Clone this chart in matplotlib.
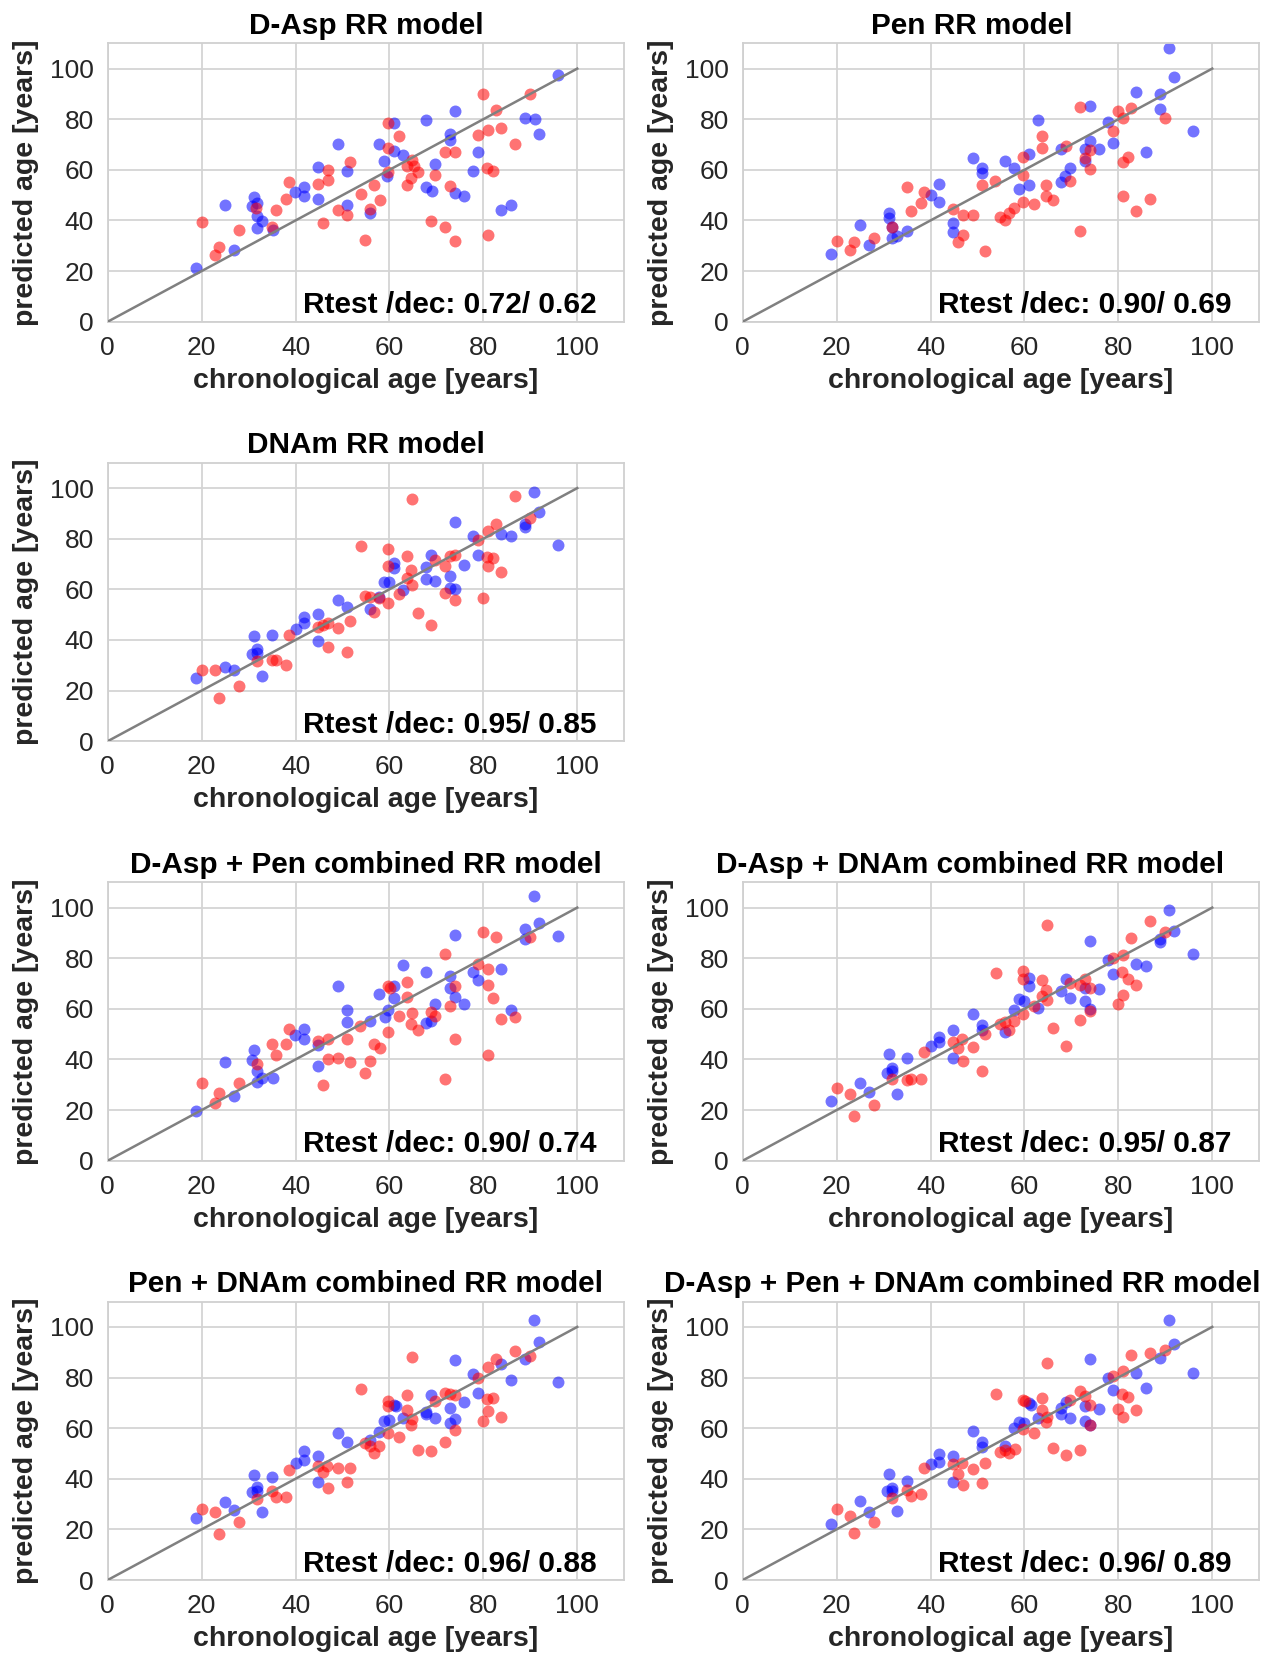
import matplotlib
matplotlib.use("Agg")
import matplotlib.pyplot as plt

plt.rcParams['font.family'] = ['Liberation Sans', 'DejaVu Sans']

# ---- D-Asp RR model ----
dasp_bx = [95.8, 73.9, 67.8, 61.0, 88.9, 90.9, 91.9, 72.8, 72.8, 49.1, 57.7, 61.0, 62.8, 78.9,
           58.8, 69.6, 59.5, 50.9, 44.8, 77.9, 67.8, 69.1, 73.9, 75.9, 41.9, 39.8, 41.9, 44.8,
           50.9, 31.1, 30.8, 31.8, 25.0, 31.8, 32.8, 31.8, 35.1, 55.9, 83.8, 85.8, 27.0, 18.9]
dasp_by = [97.5, 83.2, 79.7, 78.6, 80.6, 80.2, 74.2, 74.0, 71.7, 70.3, 70.3, 67.4, 65.7, 67.1,
           63.4, 62.5, 57.5, 59.4, 61.2, 59.4, 53.2, 51.5, 50.9, 49.5, 53.2, 51.1, 49.5, 48.5,
           46.2, 49.3, 45.6, 46.9, 46.2, 41.6, 39.6, 37.0, 36.3, 42.9, 44.3, 46.0, 28.4, 21.4]
dasp_rx = [80.0, 89.9, 82.7, 83.8, 80.9, 78.9, 86.8, 59.7, 62.0, 59.7, 71.9, 73.9, 64.9, 63.8,
           65.3, 66.0, 59.7, 64.7, 63.8, 69.8, 80.7, 82.0, 72.8, 51.6, 46.9, 46.9, 44.8, 38.7,
           37.9, 35.8, 31.5, 56.7, 54.0, 57.9, 55.9, 49.1, 50.9, 45.9, 68.9, 71.9, 73.9, 80.9,
           54.9, 20.0, 27.9, 34.9, 23.8, 22.9]
dasp_ry = [89.8, 89.8, 83.6, 76.4, 75.6, 73.7, 70.3, 78.6, 73.3, 68.7, 67.0, 67.0, 63.8, 61.4,
           61.4, 59.2, 59.2, 56.8, 54.2, 57.9, 60.8, 59.4, 53.8, 63.0, 60.1, 56.1, 54.6, 55.2,
           48.5, 44.3, 44.9, 54.2, 50.6, 48.0, 44.5, 44.3, 42.0, 39.0, 39.6, 37.3, 31.7, 34.1,
           32.1, 39.2, 36.3, 37.6, 29.5, 26.3]

# ---- Pen RR model ----
pen_bx = [90.8, 91.9, 83.8, 88.9, 88.9, 73.9, 77.9, 95.8, 62.8, 78.9, 73.9, 72.8, 75.9, 67.8,
          85.8, 61.0, 49.0, 55.9, 57.7, 50.9, 50.9, 72.8, 69.6, 68.7, 67.8, 61.0, 58.8, 41.8,
          40.0, 41.8, 31.1, 31.1, 31.8, 31.8, 32.9, 34.9, 25.0, 27.0, 18.9, 44.8, 44.8]
pen_by = [108.3, 96.8, 90.9, 89.8, 84.1, 85.2, 79.0, 75.3, 79.7, 70.7, 71.3, 68.3, 68.3, 68.3,
          67.1, 66.4, 64.7, 63.4, 60.8, 60.8, 58.8, 63.4, 60.8, 57.5, 55.1, 53.9, 52.4, 54.4,
          49.9, 47.2, 42.9, 41.0, 37.6, 33.0, 33.7, 35.9, 38.3, 30.4, 26.8, 39.0, 35.3]
pen_rx = [71.9, 80.0, 82.7, 80.9, 89.9, 78.9, 63.8, 63.8, 68.9, 73.9, 72.8, 73.9, 82.0, 80.9,
          59.7, 59.7, 69.8, 53.8, 50.9, 64.7, 64.7, 66.0, 62.0, 59.7, 57.7, 56.7, 54.9, 55.9,
          80.9, 86.8, 83.8, 71.9, 34.9, 38.7, 37.9, 35.8, 44.8, 46.9, 49.1, 31.8, 46.9, 45.9,
          51.6, 27.9, 23.8, 20.0, 22.9]
pen_ry = [84.8, 83.2, 84.3, 80.6, 80.6, 75.3, 73.3, 68.7, 69.6, 68.0, 64.7, 60.4, 65.1, 63.0,
          65.1, 58.1, 55.5, 55.5, 53.9, 54.2, 49.5, 48.0, 46.6, 47.2, 44.9, 42.9, 41.3, 40.0,
          49.5, 48.5, 43.9, 35.9, 53.2, 51.1, 46.9, 43.9, 44.5, 42.3, 42.3, 37.3, 34.1, 31.3,
          28.0, 33.0, 31.4, 31.7, 28.4]

# ---- DNAm RR model ----
dnam_bx = [90.8, 91.9, 88.9, 88.9, 73.9, 77.9, 83.8, 85.8, 95.8, 78.9, 68.9, 75.9, 67.8, 61.0,
           61.0, 72.8, 67.8, 69.8, 58.8, 59.9, 72.8, 73.9, 62.8, 57.7, 55.9, 49.1, 50.9, 44.8,
           41.8, 41.8, 40.0, 44.8, 34.9, 31.1, 31.8, 31.8, 30.8, 25.0, 27.0, 32.9, 18.9]
dnam_by = [98.4, 90.5, 85.9, 84.5, 86.5, 81.2, 81.9, 81.2, 77.6, 73.6, 73.6, 69.6, 69.0, 70.3,
           68.3, 65.4, 63.9, 63.3, 63.0, 63.0, 60.7, 60.1, 59.7, 57.1, 52.4, 55.7, 53.1, 50.2,
           49.1, 46.9, 44.2, 39.5, 41.9, 41.5, 36.3, 35.0, 34.6, 29.3, 28.0, 25.6, 25.1]
dnam_rx = [64.8, 86.8, 89.9, 82.7, 80.9, 78.9, 54.0, 59.7, 63.8, 72.8, 73.9, 69.8, 80.7, 82.0,
           80.9, 83.8, 59.7, 71.9, 64.7, 63.8, 64.9, 62.0, 71.9, 73.9, 80.0, 54.9, 55.9, 57.7,
           59.7, 56.7, 66.0, 68.9, 51.6, 49.1, 45.9, 46.9, 44.8, 38.7, 46.9, 50.9, 34.9, 35.9,
           37.9, 31.8, 20.0, 22.9, 27.9, 23.8]
dnam_ry = [95.8, 96.7, 88.1, 85.9, 83.0, 79.6, 77.2, 75.8, 73.0, 73.2, 73.6, 71.4, 72.8, 72.5,
           69.2, 66.9, 69.2, 69.2, 67.6, 64.3, 61.6, 58.3, 58.6, 55.9, 56.7, 57.5, 57.1, 56.5,
           54.8, 50.9, 50.5, 45.8, 47.5, 44.8, 46.1, 46.8, 45.0, 41.9, 37.4, 35.4, 32.0, 32.0,
           30.1, 31.7, 28.3, 28.0, 21.7, 17.2]

# ---- D-Asp + Pen combined RR model ----
dp_bx = [90.8, 91.9, 88.9, 88.9, 95.8, 73.9, 62.8, 67.8, 83.8, 77.9, 78.9, 72.8, 72.8, 73.9,
         75.9, 69.8, 85.8, 49.1, 61.0, 57.7, 61.0, 59.7, 59.0, 55.9, 50.9, 50.9, 67.8, 68.9,
         41.8, 39.8, 41.9, 44.8, 44.8, 31.1, 30.8, 31.8, 32.8, 31.8, 35.1, 25.0, 27.0, 18.9]
dp_by = [104.6, 94.1, 91.5, 87.6, 88.8, 89.2, 77.3, 74.7, 75.9, 74.5, 71.5, 73.1, 68.3, 64.5,
         62.1, 62.1, 59.6, 68.9, 68.9, 65.7, 64.3, 59.7, 56.9, 55.2, 59.4, 54.8, 54.5, 55.2,
         51.9, 49.7, 48.0, 45.6, 37.4, 43.6, 39.9, 35.4, 32.8, 31.2, 32.5, 38.9, 25.4, 19.8]
dp_rx = [80.0, 82.7, 89.9, 71.9, 78.9, 80.9, 80.9, 82.0, 83.8, 86.8, 63.8, 63.8, 59.7, 60.1,
         73.9, 72.8, 68.9, 69.8, 64.8, 64.7, 66.0, 62.0, 59.7, 53.8, 50.9, 56.7, 57.9, 55.9,
         54.9, 51.6, 49.1, 46.9, 46.9, 44.8, 45.9, 73.9, 80.9, 71.9, 38.7, 37.9, 34.9, 35.8,
         31.8, 27.9, 20.0, 23.8, 22.9]
dp_ry = [90.4, 88.2, 88.5, 81.5, 77.8, 75.9, 69.6, 64.1, 56.1, 56.7, 70.5, 64.6, 68.9, 68.3,
         69.0, 61.0, 58.7, 57.1, 58.4, 54.2, 51.5, 57.1, 50.9, 53.4, 48.1, 46.1, 44.5, 39.2,
         34.6, 38.9, 40.6, 40.2, 48.1, 47.2, 30.0, 48.1, 41.9, 32.4, 52.2, 46.1, 46.1, 41.9,
         38.3, 30.6, 30.6, 26.7, 22.7]

# ---- D-Asp + DNAm combined RR model ----
dd_bx = [90.8, 91.9, 88.9, 88.9, 73.9, 95.8, 77.9, 83.8, 85.8, 78.9, 61.0, 61.0, 68.9, 72.8,
         75.9, 67.8, 69.8, 72.8, 73.9, 58.8, 59.9, 62.8, 57.7, 49.0, 50.9, 50.9, 55.9, 44.8,
         41.8, 41.8, 40.0, 44.8, 31.1, 34.9, 31.8, 31.8, 30.8, 25.0, 27.0, 32.9, 18.9]
dd_by = [99.1, 90.8, 87.5, 86.3, 86.7, 81.5, 79.3, 77.8, 76.9, 73.8, 72.3, 69.2, 71.9, 68.3,
         67.9, 67.0, 64.1, 63.1, 59.8, 64.0, 63.1, 60.4, 59.4, 58.0, 53.5, 51.8, 50.9, 51.6,
         49.0, 46.9, 45.2, 40.4, 42.0, 40.4, 36.5, 35.4, 34.6, 30.6, 27.1, 26.4, 23.6]
dd_rx = [64.8, 86.8, 89.9, 82.7, 80.9, 78.9, 54.0, 59.7, 59.7, 63.8, 64.7, 72.8, 71.9, 69.8,
         73.9, 80.7, 82.0, 83.8, 80.9, 79.9, 63.8, 64.9, 62.0, 59.7, 73.9, 71.9, 66.0, 68.9,
         54.9, 55.9, 57.7, 56.7, 51.6, 49.1, 45.9, 46.7, 44.8, 46.9, 38.7, 50.9, 34.9, 35.9,
         37.9, 31.8, 20.0, 22.9, 27.9, 23.8]
dd_ry = [93.0, 94.9, 90.3, 88.0, 81.2, 79.9, 74.0, 75.0, 71.6, 71.3, 67.6, 71.9, 69.3, 70.2,
         68.3, 74.6, 71.9, 69.6, 65.4, 61.8, 65.0, 63.5, 61.2, 57.8, 59.0, 55.4, 52.3, 45.3,
         54.1, 54.8, 55.1, 51.6, 50.0, 45.0, 44.4, 48.2, 47.0, 39.5, 43.1, 35.4, 31.9, 32.2,
         32.2, 32.2, 28.6, 26.5, 22.0, 17.5]

# ---- Pen + DNAm combined RR model ----
pd_bx = [90.8, 91.9, 88.9, 83.8, 73.9, 77.9, 85.8, 95.8, 78.9, 68.9, 75.9, 61.0, 61.3, 67.8,
         67.8, 72.8, 69.8, 73.9, 72.8, 62.8, 58.8, 59.9, 57.7, 55.9, 49.1, 50.9, 44.8, 41.8,
         41.8, 40.0, 44.8, 34.9, 31.1, 31.8, 31.8, 30.8, 25.0, 27.0, 32.9, 18.9]
pd_by = [102.8, 94.1, 87.5, 85.2, 86.8, 81.5, 79.0, 78.3, 73.8, 72.9, 70.2, 69.3, 68.9, 66.4,
         65.7, 67.8, 64.1, 63.7, 62.1, 64.1, 62.7, 63.1, 58.5, 55.5, 57.9, 54.6, 48.9, 50.9,
         47.4, 46.1, 38.6, 40.6, 41.6, 36.6, 35.3, 34.6, 30.9, 27.6, 26.7, 24.4]
pd_rx = [64.8, 86.8, 89.9, 82.7, 80.9, 78.9, 54.0, 59.7, 59.7, 63.8, 71.9, 72.8, 73.9, 69.8,
         80.7, 82.0, 80.9, 79.9, 83.8, 63.8, 64.9, 64.7, 59.7, 62.0, 73.9, 71.9, 66.0, 68.9,
         54.9, 55.9, 57.7, 56.7, 51.6, 49.1, 45.9, 46.7, 44.8, 46.9, 50.9, 38.7, 34.9, 35.8,
         37.9, 31.8, 20.0, 22.9, 27.9, 23.8]
pd_ry = [88.2, 90.5, 88.5, 87.2, 84.1, 79.9, 75.6, 70.9, 68.6, 72.9, 74.0, 73.6, 72.9, 70.6,
         71.7, 72.0, 66.7, 62.7, 64.3, 67.3, 63.7, 61.4, 57.9, 56.4, 59.2, 54.4, 51.5, 51.1,
         54.1, 52.8, 53.1, 50.3, 44.1, 44.1, 42.8, 45.2, 45.2, 36.3, 38.6, 43.3, 35.3, 32.6,
         32.6, 32.0, 28.0, 26.8, 23.0, 18.1]

# ---- D-Asp + Pen + DNAm combined RR model ----
all_bx = [90.8, 91.9, 88.9, 73.9, 83.8, 95.8, 77.9, 85.8, 78.9, 61.0, 61.3, 68.9, 67.8, 67.8,
          72.8, 75.9, 69.8, 72.8, 73.9, 62.8, 58.8, 59.9, 57.7, 49.0, 50.9, 50.9, 55.9, 44.8,
          41.8, 41.8, 40.0, 44.8, 31.1, 34.9, 31.8, 31.8, 30.8, 25.0, 27.0, 32.9, 18.9]
all_by = [102.8, 93.4, 87.8, 87.2, 81.9, 81.9, 79.7, 76.0, 74.9, 70.0, 69.3, 70.4, 67.8, 65.4,
          68.7, 67.6, 64.0, 62.7, 61.4, 64.0, 62.4, 62.0, 60.1, 58.8, 54.4, 52.6, 53.1, 49.1,
          49.8, 46.5, 45.9, 38.7, 41.9, 39.2, 36.3, 35.0, 35.0, 31.4, 26.7, 27.1, 22.2]
all_rx = [64.8, 86.8, 89.9, 82.7, 80.9, 78.9, 54.0, 59.7, 60.2, 63.8, 71.9, 72.8, 69.8, 73.9,
          80.7, 82.0, 79.9, 83.8, 80.9, 63.8, 64.9, 64.7, 59.7, 62.0, 73.9, 71.9, 66.0, 68.9,
          54.9, 55.9, 57.9, 56.7, 51.6, 49.1, 45.9, 46.7, 44.8, 46.9, 50.9, 38.7, 34.9, 35.8,
          37.9, 31.8, 20.0, 22.9, 27.9, 23.8]
all_ry = [85.6, 89.8, 90.8, 88.8, 82.6, 80.6, 73.4, 71.1, 70.7, 72.1, 74.6, 72.7, 71.0, 69.2,
          73.4, 72.5, 67.6, 67.3, 64.3, 67.3, 64.3, 62.3, 59.8, 58.1, 61.1, 51.2, 52.2, 49.5,
          50.6, 51.5, 51.9, 50.2, 46.1, 43.8, 41.8, 46.1, 45.8, 37.6, 38.3, 44.1, 35.5, 33.3,
          33.9, 32.4, 28.2, 25.2, 22.8, 18.4]

panels = [
    ("D-Asp RR model", "Rtest /dec: 0.72/ 0.62", dasp_bx, dasp_by, dasp_rx, dasp_ry),
    ("Pen RR model", "Rtest /dec: 0.90/ 0.69", pen_bx, pen_by, pen_rx, pen_ry),
    ("DNAm RR model", "Rtest /dec: 0.95/ 0.85", dnam_bx, dnam_by, dnam_rx, dnam_ry),
    None,
    ("D-Asp + Pen combined RR model", "Rtest /dec: 0.90/ 0.74", dp_bx, dp_by, dp_rx, dp_ry),
    ("D-Asp + DNAm combined RR model", "Rtest /dec: 0.95/ 0.87", dd_bx, dd_by, dd_rx, dd_ry),
    ("Pen + DNAm combined RR model", "Rtest /dec: 0.96/ 0.88", pd_bx, pd_by, pd_rx, pd_ry),
    ("D-Asp + Pen + DNAm combined RR model", "Rtest /dec: 0.96/ 0.89", all_bx, all_by, all_rx, all_ry),
]

# title offsets of the right column in the original figure
title_x = [0.5, 0.444, 0.5, None, 0.5, 0.441, 0.5, 0.426]

W, H = 1274, 1655
fig = plt.figure(figsize=(W / 100, H / 100), dpi=100)

lefts = [107.7, 742.7]
bottoms = [321.7, 741.2, 1160.7, 1580.0]
aw, ah = 516.5, 278.4

for i, p in enumerate(panels):
    if p is None:
        continue
    r, c = divmod(i, 2)
    ax = fig.add_axes([lefts[c] / W, 1 - bottoms[r] / H, aw / W, ah / H])
    title, txt, bx, by, rx, ry = p

    ax.set_axisbelow(True)
    ax.grid(True, color='#d4d4d4', linewidth=1.3)
    for s in ax.spines.values():
        s.set_color('#d0d0d0')
        s.set_linewidth(1.3)

    ax.scatter(bx, by, s=74, c='blue', alpha=0.55, linewidths=0, zorder=2)
    ax.scatter(rx, ry, s=74, c='red', alpha=0.55, linewidths=0, zorder=2)
    ax.plot([0, 100], [0, 100], color='gray', linewidth=1.8, zorder=3)

    ax.set_xlim(0, 110)
    ax.set_ylim(0, 110)
    ax.set_xticks([0, 20, 40, 60, 80, 100])
    ax.set_yticks([0, 20, 40, 60, 80, 100])
    ax.tick_params(length=0, pad=10, labelsize=19, labelcolor='#262626')

    ax.set_xlabel("chronological age [years]", fontsize=20.5, fontweight='bold',
                  color='#262626', labelpad=6)
    ax.set_ylabel("predicted age [years]", fontsize=20.5, fontweight='bold',
                  color='#262626', labelpad=8)
    ax.set_title(title, fontsize=21.4, fontweight='bold', x=title_x[i], pad=7)
    ax.text(0.947, 0.03, txt, transform=ax.transAxes, ha='right', va='baseline',
            fontsize=21.5, fontweight='bold', zorder=4)

fig.savefig("out.png", dpi=100)
